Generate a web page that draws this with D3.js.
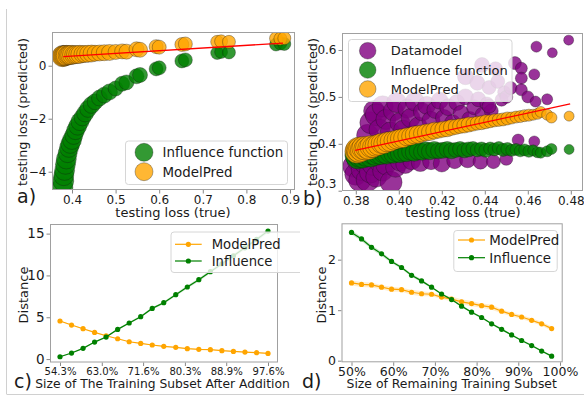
<!DOCTYPE html>
<html>
<head>
<meta charset="utf-8">
<script src="https://cdn.jsdelivr.net/npm/d3@7"></script>
<style>
  html, body { margin: 0; padding: 0; background: #fff; }
  svg { display: block; font-family: "DejaVu Sans", sans-serif; }
</style>
</head>
<body>
<div id="chart"></div>
<script>
// ---- panel a: testing loss, true vs predicted ----
const aTrue = [0.378,0.380,0.381,0.383,0.385,0.387,0.390,0.393,0.396,0.400,
  0.404,0.408,0.413,0.418,0.424,0.430,0.437,0.445,0.453,0.463,
  0.474,0.486,0.500,0.515,0.525,0.548,0.556,0.593,0.600,0.652,
  0.660,0.733,0.742,0.760,0.868,0.878,0.887];
const aInfluence = [-4.60,-4.35,-4.15,-3.95,-3.72,-3.52,-3.30,-3.10,-2.95,-2.80,
  -2.63,-2.45,-2.28,-2.11,-1.95,-1.80,-1.63,-1.48,-1.36,-1.22,
  -1.11,-0.99,-0.86,-0.68,-0.63,-0.40,-0.35,-0.12,-0.08,0.18,
  0.22,0.48,0.52,0.50,0.80,0.84,0.82];
const aModelPred = [0.36,0.37,0.37,0.38,0.38,0.39,0.39,0.40,0.40,0.41,
  0.41,0.42,0.42,0.43,0.44,0.44,0.45,0.46,0.47,0.48,
  0.49,0.50,0.52,0.54,0.53,0.62,0.60,0.72,0.70,0.80,
  0.82,0.90,0.92,0.90,1.03,1.02,1.04];
const aRadius = [10.5,10.5,10,10,10,10,9.5,9.5,9.5,9.5,
  9,9,9,9,8.5,8.5,8.5,8.5,8,8,
  8,8,7.5,7.5,7.5,7.5,7.5,7,7,7,
  7,6.5,6.5,6.5,6.5,6.5,6.5];
const aFitX = [0.380, 0.884];
const aFitY = [0.34, 0.855];
const aXTicks = [0.4, 0.5, 0.6, 0.7, 0.8, 0.9];
const aYTicks = [-4, -2, 0];

// ---- panel b: influence function and ModelPred share the same test points ----
const bTrue = [0.3805,0.3810,0.3815,0.3820,0.3828,0.3835,0.3842,0.3850,0.3860,0.3870,
  0.3880,0.3892,0.3905,0.3918,0.3930,0.3945,0.3960,0.3975,0.3990,0.4005,
  0.4020,0.4037,0.4055,0.4072,0.4090,0.4108,0.4126,0.4145,0.4165,0.4185,
  0.4205,0.4225,0.4245,0.4265,0.4285,0.4305,0.4325,0.4345,0.4365,0.4385,
  0.4405,0.4425,0.4445,0.4465,0.4485,0.4505,0.4525,0.4545,0.4565,0.4585,
  0.4605,0.4625,0.4645,0.4660,0.4690,0.4710,0.4792];
const bInfluence = [0.376,0.372,0.378,0.374,0.379,0.373,0.377,0.375,0.380,0.374,
  0.378,0.376,0.379,0.377,0.380,0.378,0.381,0.379,0.382,0.380,
  0.383,0.381,0.384,0.382,0.385,0.383,0.386,0.384,0.387,0.385,
  0.386,0.388,0.385,0.387,0.389,0.386,0.388,0.390,0.387,0.389,
  0.386,0.390,0.388,0.391,0.387,0.389,0.386,0.388,0.385,0.387,
  0.384,0.386,0.382,0.381,0.384,0.389,0.388];
const bModelPred = [0.384,0.388,0.386,0.390,0.387,0.391,0.389,0.392,0.390,0.394,
  0.393,0.396,0.398,0.401,0.400,0.404,0.405,0.407,0.409,0.411,
  0.412,0.415,0.416,0.419,0.420,0.422,0.424,0.425,0.428,0.429,
  0.431,0.432,0.435,0.436,0.438,0.439,0.441,0.442,0.444,0.445,
  0.447,0.448,0.450,0.451,0.452,0.454,0.455,0.457,0.458,0.460,
  0.461,0.462,0.464,0.468,0.462,0.456,0.459];
const bRadius = [12,12,12,11.5,11.5,11.5,11,11,11,11,
  10.5,10.5,10.5,10,10,10,10,9.5,9.5,9.5,
  9.5,9,9,9,9,8.5,8.5,8.5,8.5,8,
  8,8,8,7.5,7.5,7.5,7.5,7,7,7,
  7,6.5,6.5,6.5,6.5,6.5,6,6,6,6,
  6,5.5,5.5,5.5,5.5,5.5,5];
// datamodel points
const bDmTrue = [
  0.3790,0.3800,0.3810,0.3818,0.3830,0.3842,0.3855,0.3868,0.3880,0.3895,
  0.3910,0.3925,0.3940,0.3964,0.3985,0.4005,0.4030,0.4060,0.4100,0.4150,
  0.4200,0.4260,0.4320,0.4380,0.4440,0.4500,
  0.3855,0.3870,0.3885,0.3895,0.3910,0.3925,0.3940,0.3960,0.3975,0.3990,
  0.4005,0.4020,0.4040,0.4055,0.4075,0.4090,0.4110,0.4130,0.4150,0.4170,
  0.4190,0.4210,0.4230,0.4250,0.4270,0.4290,0.4310,0.4330,0.4350,0.4370,
  0.4390,0.4410,0.4430,
  0.4310,0.4365,0.4387,0.4420,0.4450,0.4490,0.4460,
  0.4478,0.4420,0.4500,0.4520,0.4540,0.4570,0.4570,0.4570,0.4600,0.4630,
  0.4636,0.4640,0.4690,0.4714,0.4555,0.4630,0.4790];
const bDatamodel = [
  0.352,0.335,0.365,0.322,0.345,0.360,0.323,0.340,0.355,0.330,
  0.362,0.342,0.355,0.318,0.350,0.362,0.357,0.364,0.360,0.363,
  0.358,0.364,0.366,0.362,0.362,0.368,
  0.418,0.445,0.470,0.462,0.430,0.480,0.452,0.425,0.470,0.488,
  0.445,0.430,0.475,0.455,0.490,0.438,0.468,0.482,0.450,0.472,
  0.492,0.455,0.478,0.445,0.488,0.465,0.500,0.452,0.478,0.495,
  0.462,0.485,0.470,
  0.543,0.530,0.568,0.520,0.560,0.510,0.533,
  0.494,0.480,0.500,0.519,0.572,0.561,0.540,0.515,0.500,0.548,
  0.490,0.607,0.495,0.594,0.408,0.405,0.621];
const bDmRadius = [
  11,11,11,11,11,11,11.5,11,10.5,10.5,
  10.5,10,10,11,10,9.5,9.5,9,9,8.5,
  8.5,8,8,7.5,7,6.5,
  11,11,10.5,11,10.5,10.5,10,10,10,10,
  10,9.5,9.5,9.5,9.5,9,9,9,9,8.5,
  8.5,8.5,8.5,8,8,8,8,8,7.5,7.5,
  7.5,7,7,
  8,7.5,7.5,7,7,6.5,7,
  6.5,7,6.5,6.5,6.5,6,6,6,6,5.5,
  5.5,5.5,5.5,5,6,5.5,5];
const bFitX = [0.3797, 0.4797];
const bFitY = [0.386, 0.485];
const bXTicks = [0.38, 0.40, 0.42, 0.44, 0.46, 0.48];
const bYTicks = [0.3, 0.4, 0.5, 0.6];

// ---- panel c: adding training data ----
const cSize = [54.3,56.7,59.1,61.5,63.9,66.3,68.7,71.1,73.5,75.9,78.4,80.8,83.2,85.6,88.0,90.4,92.8,95.2,97.6];
const cModelPred = [4.55,4.07,3.63,3.19,2.79,2.43,2.07,1.87,1.68,1.52,1.40,1.24,1.16,1.12,1.00,0.92,0.84,0.76,0.68];
const cInfluence = [0.28,0.72,1.28,2.03,2.63,3.55,4.31,5.07,6.06,6.74,7.70,8.62,9.49,10.45,11.40,12.35,13.30,14.30,15.30];
const cModelPredSpread = [0.06,0.06,0.05,0.05,0.05,0.04,0.04,0.04,0.04,0.03,0.03,0.03,0.03,0.03,0.03,0.03,0.03,0.03,0.03];
const cInfluenceSpread = [0.05,0.06,0.07,0.08,0.10,0.11,0.12,0.13,0.14,0.15,0.16,0.17,0.18,0.19,0.20,0.21,0.22,0.23,0.24];
const cXTicks = [54.3, 63.0, 71.6, 80.3, 88.9, 97.6];
const cXTickLabels = ["54.3%", "63.0%", "71.6%", "80.3%", "88.9%", "97.6%"];
const cYTicks = [0, 5, 10, 15];

// ---- panel d: removing training data ----
const dSize = [50,52.4,54.8,57.2,59.6,62,64.4,66.8,69.2,71.6,74,76.4,78.8,81.2,83.6,86,88.4,90.8,93.2,95.6,98];
const dModelPred = [1.54,1.51,1.50,1.455,1.415,1.405,1.355,1.325,1.315,1.26,1.22,1.165,1.13,1.09,1.06,0.98,0.915,0.865,0.80,0.73,0.635];
const dInfluence = [2.54,2.41,2.245,2.115,1.965,1.845,1.69,1.58,1.455,1.32,1.21,1.08,0.96,0.855,0.73,0.62,0.51,0.40,0.30,0.19,0.09];
const dModelPredSpread = [0.05,0.05,0.05,0.04,0.05,0.04,0.05,0.05,0.04,0.04,0.05,0.05,0.05,0.04,0.05,0.04,0.04,0.04,0.04,0.04,0.04];
const dInfluenceSpread = [0.04,0.04,0.04,0.04,0.03,0.03,0.03,0.03,0.02,0.02,0.02,0.02,0.02,0.02,0.02,0.02,0.02,0.02,0.02,0.02,0.02];
const dXTicks = [50, 60, 70, 80, 90, 100];
const dYTicks = [0, 1, 2];

const GREEN = "green", ORANGE = "orange", PURPLE = "purple", RED = "red";

const svg = d3.select("#chart").append("svg")
  .attr("width", 584)
  .attr("height", 396);
const defs = svg.append("defs");

// faint frame lines of the original figure
svg.append("line").attr("x1", 6.5).attr("x2", 6.5).attr("y1", 9).attr("y2", 394)
  .attr("stroke", "#d0d0d0").attr("stroke-width", 1);
svg.append("line").attr("x1", 6.5).attr("x2", 584).attr("y1", 394.5).attr("y2", 394.5)
  .attr("stroke", "#d0d0d0").attr("stroke-width", 1);

function makeScales(id, box, xDom, yDom) {
  defs.append("clipPath").attr("id", id).append("rect")
    .attr("x", box.l).attr("y", box.t).attr("width", box.r - box.l).attr("height", box.b - box.t);
  return {
    x: d3.scaleLinear().domain(xDom).range([box.l, box.r]),
    y: d3.scaleLinear().domain(yDom).range([box.b, box.t])
  };
}

function drawAxes(box, x, y, opt) {
  const gx = svg.append("g")
    .attr("transform", `translate(0,${box.b})`)
    .call(d3.axisBottom(x).tickValues(opt.xTicks).tickFormat(opt.xFormat).tickSize(3.5).tickPadding(1.5));
  gx.select(".domain").remove();
  gx.selectAll("line").attr("stroke", "#888");
  gx.selectAll("text").attr("font-size", opt.xFont).attr("fill", "#1a1a1a").attr("font-family", "DejaVu Sans");
  if (opt.xSquash) gx.selectAll("text").attr("transform", `scale(${opt.xSquash},1)`);

  const gy = svg.append("g")
    .attr("transform", `translate(${box.l},0)`)
    .call(d3.axisLeft(y).tickValues(opt.yTicks).tickFormat(opt.yFormat).tickSize(3.5).tickPadding(2));
  gy.select(".domain").remove();
  gy.selectAll("line").attr("stroke", "#888");
  gy.selectAll("text").attr("font-size", opt.yFont).attr("fill", "#1a1a1a").attr("font-family", "DejaVu Sans");
  return gy;
}

function drawSpine(box) {
  svg.append("rect")
    .attr("x", box.l + 0.5).attr("y", box.t + 0.5)
    .attr("width", box.r - box.l - 1).attr("height", box.b - box.t - 1)
    .attr("fill", "none").attr("stroke", "#a0a0a0").attr("stroke-width", 1);
}

function scatter(clipId, sc, xs, ys, rs, color) {
  svg.append("g").attr("clip-path", `url(#${clipId})`)
    .selectAll("circle")
    .data(xs)
    .join("circle")
    .attr("cx", d => sc.x(d))
    .attr("cy", (d, i) => sc.y(ys[i]))
    .attr("r", (d, i) => rs[i])
    .attr("fill", color).attr("fill-opacity", 0.8)
    .attr("stroke", "#111").attr("stroke-opacity", 0.55).attr("stroke-width", 0.6);
}

function fitLine(clipId, sc, xs, ys) {
  svg.append("path").attr("clip-path", `url(#${clipId})`)
    .datum(xs)
    .attr("d", d3.line().x(d => sc.x(d)).y((d, i) => sc.y(ys[i])))
    .attr("fill", "none").attr("stroke", RED).attr("stroke-width", 1.3);
}

function bandLine(clipId, sc, xs, ys, spread, color) {
  const g = svg.append("g").attr("clip-path", `url(#${clipId})`);
  g.append("path").datum(xs)
    .attr("d", d3.area().x(d => sc.x(d))
      .y0((d, i) => sc.y(ys[i] - spread[i]))
      .y1((d, i) => sc.y(ys[i] + spread[i])))
    .attr("fill", color).attr("fill-opacity", 0.2);
  g.append("path").datum(xs)
    .attr("d", d3.line().x(d => sc.x(d)).y((d, i) => sc.y(ys[i])))
    .attr("fill", "none").attr("stroke", color).attr("stroke-width", 1.2);
  g.selectAll("circle").data(xs).join("circle")
    .attr("cx", d => sc.x(d)).attr("cy", (d, i) => sc.y(ys[i])).attr("r", 2.6)
    .attr("fill", color);
}

function legendBox(x0, y0, w, h, clip) {
  const r = svg.append("rect")
    .attr("x", x0 + 0.5).attr("y", y0 + 0.5).attr("width", w).attr("height", h)
    .attr("rx", 3).attr("fill", "#fff").attr("fill-opacity", 0.8)
    .attr("stroke", "#d6d6d6").attr("stroke-width", 1);
  if (clip) r.attr("clip-path", `url(#${clip})`);
}

function scatterLegend(x0, y0, w, h, mx, tx, rowsY, labels, colors, rad, font) {
  legendBox(x0, y0, w, h);
  labels.forEach((lab, i) => {
    svg.append("circle").attr("cx", mx).attr("cy", rowsY[i]).attr("r", rad)
      .attr("fill", colors[i]).attr("fill-opacity", 0.8)
      .attr("stroke", "#111").attr("stroke-opacity", 0.55).attr("stroke-width", 0.6);
    svg.append("text").attr("x", tx).attr("y", rowsY[i]).attr("dy", "0.36em")
      .attr("font-size", font).attr("fill", "#1a1a1a").text(lab);
  });
}

function lineLegend(x0, y0, w, h, lx0, lx1, tx, rowsY, labels, colors, font, clip) {
  legendBox(x0, y0, w, h, clip);
  labels.forEach((lab, i) => {
    svg.append("line").attr("x1", lx0).attr("x2", lx1).attr("y1", rowsY[i]).attr("y2", rowsY[i])
      .attr("stroke", colors[i]).attr("stroke-width", 1.2);
    svg.append("circle").attr("cx", (lx0 + lx1) / 2).attr("cy", rowsY[i]).attr("r", 2.6).attr("fill", colors[i]);
    svg.append("text").attr("x", tx).attr("y", rowsY[i]).attr("dy", "0.36em")
      .attr("font-size", font).attr("fill", "#1a1a1a").text(lab);
  });
}

function label(x, y, txt, size, rotate, anchor) {
  const t = svg.append("text").attr("font-size", size).attr("fill", "#1a1a1a")
    .attr("text-anchor", anchor || "middle").text(txt);
  if (rotate) t.attr("transform", `translate(${x},${y}) rotate(-90)`).attr("dy", "0.36em");
  else t.attr("x", x).attr("y", y);
}

// ================= panel a =================
const aBox = { l: 52, r: 295, t: 32, b: 190 };
const aSc = makeScales("clipA", aBox, [0.3541, 0.9115], [-4.69, 1.272]);
drawAxes(aBox, aSc.x, aSc.y, {
  xTicks: aXTicks, xFormat: d3.format(".1f"), xFont: 12,
  yTicks: aYTicks, yFormat: d3.format("d"), yFont: 12
});
scatter("clipA", aSc, aTrue, aInfluence, aRadius, GREEN);
scatter("clipA", aSc, aTrue, aModelPred, aRadius, ORANGE);
fitLine("clipA", aSc, aFitX, aFitY);
drawSpine(aBox);
scatterLegend(125, 140.5, 162, 43.5, 144, 162.5, [152.3, 171.7],
  ["Influence function", "ModelPred"], [GREEN, ORANGE], 9, 13.4);
label(173, 216.5, "testing loss (true)", 13);
label(22, 112, "testing loss (predicted)", 12.8, true);
label(17, 203, "a)", 19, false, "start");

// ================= panel b =================
const bBox = { l: 342, r: 583, t: 33, b: 191 };
const bSc = makeScales("clipB", bBox, [0.37358, 0.48567], [0.2994, 0.6362]);
const bY = drawAxes(bBox, bSc.x, bSc.y, {
  xTicks: bXTicks, xFormat: d3.format(".2f"), xFont: 12,
  yTicks: bYTicks, yFormat: d3.format(".1f"), yFont: 12
});
// the lowest y label sits raised above the x tick labels in the original
bY.selectAll("text").filter(d => d === 0.3).attr("y", -7);
scatter("clipB", bSc, bDmTrue, bDatamodel, bDmRadius, PURPLE);
scatter("clipB", bSc, bTrue, bInfluence, bRadius, GREEN);
scatter("clipB", bSc, bTrue, bModelPred, bRadius, ORANGE);
fitLine("clipB", bSc, bFitX, bFitY);
drawSpine(bBox);
scatterLegend(348, 39, 163.5, 62, 367.7, 390.7, [50.7, 70, 89],
  ["Datamodel", "Influence function", "ModelPred"], [PURPLE, GREEN, ORANGE], 8.3, 13);
label(463, 216.5, "testing loss (true)", 13);
label(312, 112, "testing loss (predicted)", 12.8, true);
label(303, 205, "b)", 19, false, "start");

// ================= panel c =================
const cBox = { l: 50, r: 278, t: 224, b: 362.5 };
const cSc = makeScales("clipC", cBox, [52.22, 99.68], [-0.41, 16.15]);
defs.append("clipPath").attr("id", "clipCLeg").append("rect")
  .attr("x", 0).attr("y", 0).attr("width", 300).attr("height", 396);
drawAxes(cBox, cSc.x, cSc.y, {
  xTicks: cXTicks, xFormat: (d, i) => cXTickLabels[i], xFont: 11.2, xSquash: 0.9,
  yTicks: cYTicks, yFormat: d3.format("d"), yFont: 13.5
});
bandLine("clipC", cSc, cSize, cModelPred, cModelPredSpread, ORANGE);
bandLine("clipC", cSc, cSize, cInfluence, cInfluenceSpread, GREEN);
drawSpine(cBox);
lineLegend(170.5, 231.5, 140, 40.5, 175, 201.7, 211.7, [244.3, 261],
  ["ModelPred", "Influence"], [ORANGE, GREEN], 13.2, "clipCLeg");
label(162.5, 388, "Size of The Training Subset After Addition", 12.3);
label(23, 295, "Distance", 13, true);
label(14, 388, "c)", 19, false, "start");

// ================= panel d =================
const dBox = { l: 341.5, r: 562.7, t: 223.3, b: 362.3 };
const dSc = makeScales("clipD", dBox, [47.6, 100.65], [-0.032, 2.72]);
drawAxes(dBox, dSc.x, dSc.y, {
  xTicks: dXTicks, xFormat: d => d + "%", xFont: 12.5,
  yTicks: dYTicks, yFormat: d3.format("d"), yFont: 12.5
});
bandLine("clipD", dSc, dSize, dModelPred, dModelPredSpread, ORANGE);
bandLine("clipD", dSc, dSize, dInfluence, dInfluenceSpread, GREEN);
drawSpine(dBox);
lineLegend(453.3, 230, 103.4, 41, 458, 485, 489.3, [240, 257.7],
  ["ModelPred", "Influence"], [ORANGE, GREEN], 13.4);
label(451.7, 388, "Size of Remaining Training Subset", 12.4);
label(321.7, 295, "Distance", 13, true);
label(302, 388, "d)", 19, false, "start");
</script>
</body>
</html>
